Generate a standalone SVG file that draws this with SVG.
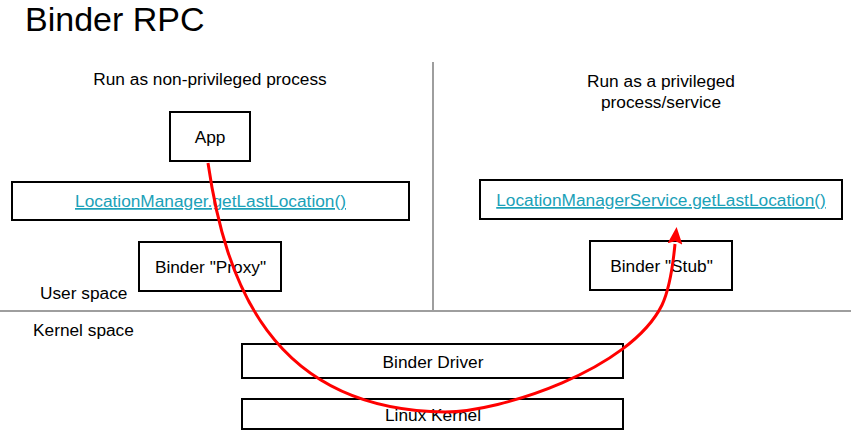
<svg xmlns="http://www.w3.org/2000/svg" width="851" height="435" viewBox="0 0 851 435">
<style>
text{font-family:"Liberation Sans",Arial,sans-serif;fill:#000;}
.lbl{font-size:17.3px;text-anchor:middle;}
.sm{font-size:17.3px;}
.box{fill:#fff;stroke:#000;stroke-width:2;}
.link{fill:#1ba1b8;text-decoration:underline;}
.sep{stroke:#9e9e9e;stroke-width:2;fill:none;}
</style>
<defs>
<marker id="ah" markerUnits="userSpaceOnUse" markerWidth="17" markerHeight="15" viewBox="0 0 17 15" refX="0" refY="7.5" orient="auto">
<path d="M0,0 L17,7.5 L0,15 L3,7.5 z" fill="#ff0000"/>
</marker>
</defs>
<rect width="851" height="435" fill="#fff"/>
<text x="25" y="31" style="font-size:34px">Binder RPC</text>
<line class="sep" x1="433" y1="62" x2="433" y2="311"/>
<line class="sep" x1="0" y1="311" x2="851" y2="311"/>
<text class="lbl" x="210" y="85">Run as non-privileged process</text>
<text class="lbl" x="661" y="87">Run as a privileged</text>
<text class="lbl" x="661" y="108">process/service</text>
<text class="sm" x="40" y="299">User space</text>
<text class="sm" x="33" y="336">Kernel space</text>
<g id="app"><rect class="box" x="170" y="112" width="80" height="49"/><text class="lbl" x="210" y="143">App</text></g>
<g id="lm"><rect class="box" x="12" y="182" width="397" height="38"/><text class="lbl link" x="210.5" y="207">LocationManager.getLastLocation()</text></g>
<g id="proxy"><rect class="box" x="139" y="242" width="142" height="49"/><text class="lbl" x="210.5" y="273">Binder "Proxy"</text></g>
<g id="lms"><rect class="box" x="480" y="180" width="362" height="39"/><text class="lbl link" x="661" y="206">LocationManagerService.getLastLocation()</text></g>
<g id="stub"><rect class="box" x="590" y="241" width="142" height="49"/><text class="lbl" x="661.5" y="272">Binder "Stub"</text></g>
<g id="driver"><rect class="box" x="242" y="344" width="381" height="34"/><text class="lbl" x="433" y="368">Binder Driver</text></g>
<g id="kernel"><rect class="box" x="242" y="399" width="381" height="30"/><text class="lbl" x="433" y="421">Linux Kernel</text></g>
<g id="connectors">
<path d="M208,163 C225,280 270,410 445,412 C500,412 630,370 662,305 C670,288 673,265 675,244" fill="none" stroke="#ff0000" stroke-width="3" marker-end="url(#ah)"/>
</g>
</svg>
